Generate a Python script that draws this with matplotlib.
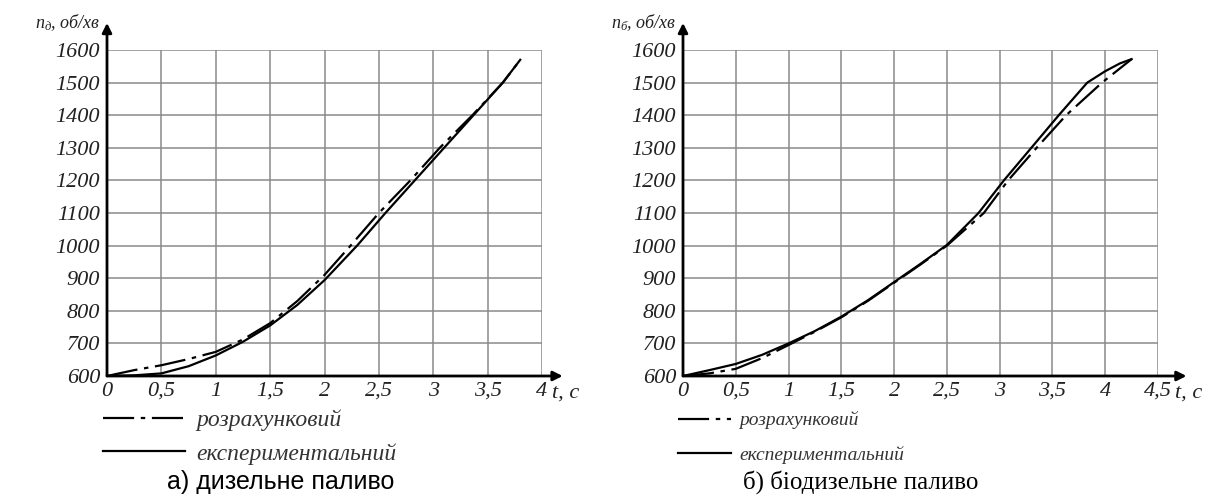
import matplotlib
matplotlib.use('Agg')
import matplotlib.pyplot as plt
from matplotlib.ticker import FuncFormatter

plt.rcParams['mathtext.fontset'] = 'custom'
plt.rcParams['mathtext.rm'] = 'Liberation Serif'
plt.rcParams['mathtext.it'] = 'Liberation Serif:italic'

SERIF = 'Liberation Serif'

# а) дизельне паливо
t_calc_d = [0, 0.25, 0.5, 0.75, 1.0, 1.25, 1.5, 1.75, 2.0, 2.24, 2.5, 2.79, 3.06, 3.36, 3.64, 3.8]
n_calc_d = [600, 618, 633, 652, 674, 712, 762, 830, 910, 1000, 1100, 1200, 1300, 1400, 1500, 1570]
t_exp_d = [0, 0.25, 0.5, 0.75, 1.0, 1.25, 1.5, 1.75, 2.0, 2.3, 2.56, 2.83, 3.1, 3.37, 3.64, 3.8]
n_exp_d = [600, 602, 608, 630, 663, 705, 755, 818, 894, 1000, 1100, 1200, 1300, 1400, 1500, 1570]

# б) біодизельне паливо
t_calc_b = [0, 0.25, 0.5, 0.75, 1.0, 1.25, 1.5, 1.75, 2.0, 2.25, 2.5, 2.85, 3.08, 3.35, 3.63, 3.97, 4.25]
n_calc_b = [600, 608, 622, 655, 695, 736, 780, 830, 886, 942, 1000, 1100, 1200, 1300, 1400, 1500, 1572]
t_exp_b = [0, 0.25, 0.5, 0.75, 1.0, 1.25, 1.5, 1.75, 2.0, 2.25, 2.5, 2.8, 3.04, 3.3, 3.56, 3.83, 4.0, 4.14, 4.25]
n_exp_b = [600, 618, 637, 665, 700, 738, 782, 832, 888, 944, 1002, 1100, 1200, 1300, 1400, 1500, 1535, 1559, 1572]

y_ticks = list(range(600, 1700, 100))
legend_labels = ['розрахунковий', 'експериментальний']

W, H = 1208, 496
fig = plt.figure(figsize=(W / 100, H / 100), dpi=100)


def comma(v, pos):
    return ('%g' % v).replace('.', ',')


def make_panel(rect, t_max, arrow_x, tlabel_x, ysub, calc, exp, leg_opts):
    ax = fig.add_axes(rect)
    ax.set_xlim(0, t_max)
    ax.set_ylim(600, 1600)
    xt = [i * 0.5 for i in range(int(t_max / 0.5) + 1)]
    ax.set_xticks(xt)
    ax.set_yticks(y_ticks)
    ax.xaxis.set_major_formatter(FuncFormatter(comma))
    ax.grid(True, color='#8a8a8a', lw=1.1)
    ax.set_axisbelow(True)
    for s in ax.spines.values():
        s.set_visible(False)
    ax.tick_params(length=0, labelsize=16, colors='#222222', pad=5)
    ax.tick_params(axis='x', pad=4)
    for lab in ax.get_xticklabels() + ax.get_yticklabels():
        lab.set_fontfamily(SERIF)
        lab.set_fontstyle('italic')

    # axes with arrows
    ax.annotate('', xy=(arrow_x, 600), xytext=(0, 600), annotation_clip=False,
                arrowprops=dict(arrowstyle='-|>', color='k', lw=2, mutation_scale=14,
                                shrinkA=0, shrinkB=0))
    ax.annotate('', xy=(0, 1683), xytext=(0, 600), annotation_clip=False,
                arrowprops=dict(arrowstyle='-|>', color='k', lw=2, mutation_scale=14,
                                shrinkA=0, shrinkB=0))

    l1, = ax.plot(calc[0], calc[1], color='k', lw=1.6, dashes=(14, 3, 2, 3),
                  label=legend_labels[0])
    l2, = ax.plot(exp[0], exp[1], color='k', lw=1.6, label=legend_labels[1])

    # x-axis name sits on the tick-label row
    ax.annotate('t, c', xy=(tlabel_x, 600), xytext=(0, -5.5), textcoords='offset points',
                fontsize=16, family=SERIF, style='italic', color='#222222',
                ha='left', va='top', annotation_clip=False)
    ax.text(-0.015, 1.085, '$n_{%s}$, об/хв' % ysub, fontsize=13, family=SERIF,
            style='italic', color='#222222', ha='right', va='center',
            transform=ax.transAxes)

    size, hl, ls, y0 = leg_opts
    leg = ax.legend(handles=[l1, l2], loc='upper left', bbox_to_anchor=(-0.01, y0),
                    frameon=False, handlelength=hl, handletextpad=0.45,
                    labelspacing=ls, borderaxespad=0, borderpad=0,
                    prop={'family': SERIF, 'style': 'italic', 'size': size})
    for txt in leg.get_texts():
        txt.set_color('#333333')
    return ax


ax1 = make_panel([107 / W, 1 - 376 / H, 435 / W, 326 / H], 4.0, 4.19, 4.09, 'д',
                 (t_calc_d, n_calc_d), (t_exp_d, n_exp_d), (17, 3.5, 0.5, -0.103))
ax2 = make_panel([683 / W, 1 - 376 / H, 475 / W, 326 / H], 4.5, 4.77, 4.66, 'б',
                 (t_calc_b, n_calc_b), (t_exp_b, n_exp_b), (14, 2.7, 0.85, -0.108))

fig.text(281 / W, 1 - 482 / H, 'а) дизельне паливо', fontsize=18,
         family='Liberation Sans', ha='center', va='center')
fig.text(861 / W, 1 - 482 / H, 'б) біодизельне паливо', fontsize=18,
         family=SERIF, ha='center', va='center')

fig.savefig('out.png', dpi=100)
